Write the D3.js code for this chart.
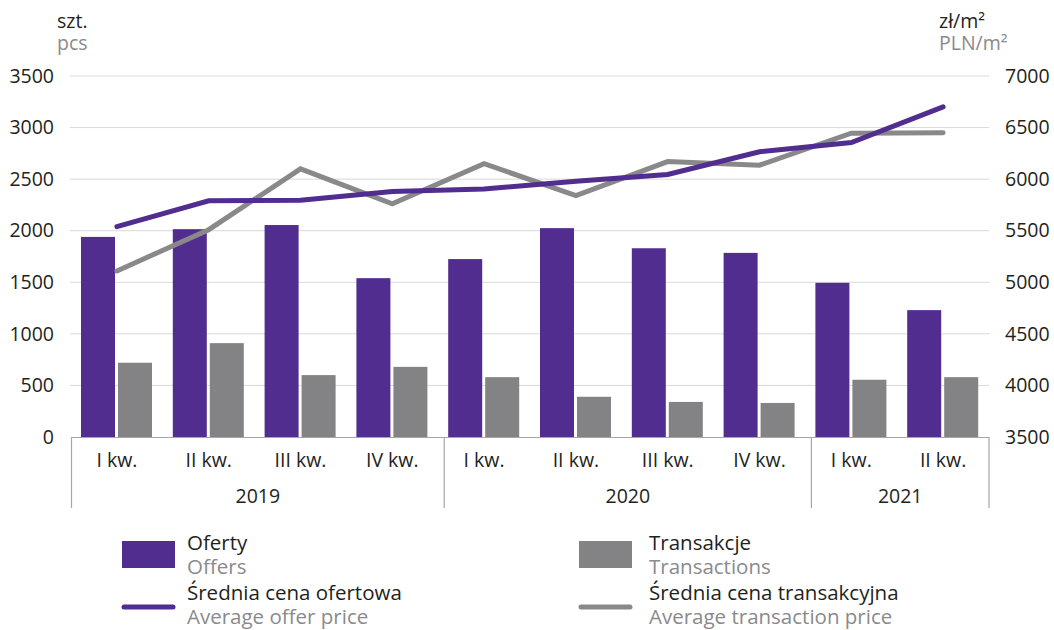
<!DOCTYPE html>
<html>
<head>
<meta charset="utf-8">
<script src="https://cdn.jsdelivr.net/npm/d3@7/dist/d3.min.js"></script>
<style>
  html, body { margin: 0; padding: 0; background: #fff; }
  svg text { font-family: "Open Sans", "Noto Sans", sans-serif; }
</style>
</head>
<body>
<svg id="chart" width="1054" height="630"></svg>
<script>
// Quarterly offers / transactions and average prices
const quarters = ["I kw.", "II kw.", "III kw.", "IV kw.", "I kw.", "II kw.", "III kw.", "IV kw.", "I kw.", "II kw."];
const quarterYears = ["2019", "2019", "2019", "2019", "2020", "2020", "2020", "2020", "2021", "2021"];
const years = ["2019", "2020", "2021"];

const offers = [1940, 2015, 2055, 1540, 1725, 2025, 1830, 1785, 1495, 1230];
const transactions = [720, 910, 600, 680, 580, 390, 340, 330, 555, 580];
const avgOfferPrice = [5540, 5790, 5795, 5880, 5905, 5980, 6045, 6265, 6355, 6700];
const avgTransactionPrice = [5110, 5510, 6100, 5760, 6150, 5840, 6170, 6135, 6445, 6450];

const leftTicks = [0, 500, 1000, 1500, 2000, 2500, 3000, 3500];
const rightTicks = [3500, 4000, 4500, 5000, 5500, 6000, 6500, 7000];

const PURPLE = "#512d8f";
const GREY_BAR = "#838386";
const GREY_LINE = "#89898b";
const TEXT = "#231f20";
const TEXT2 = "#8a8a8c";
const FS = 19.5;
const FS_LEGEND = 20.5;

const svg = d3.select("#chart");
const plot = { left: 71, right: 989, top: 76, bottom: 437 };

const x = d3.scaleBand().domain(d3.range(quarters.length)).range([plot.left, plot.right]);
const yLeft = d3.scaleLinear().domain([0, 3500]).range([plot.bottom, plot.top]);
const yRight = d3.scaleLinear().domain([3500, 7000]).range([plot.bottom, plot.top]);

// gridlines
svg.append("g").selectAll("line").data(leftTicks.slice(1)).join("line")
  .attr("x1", plot.left - 1).attr("x2", plot.right)
  .attr("y1", d => yLeft(d)).attr("y2", d => yLeft(d))
  .attr("stroke", "#d9d9d9").attr("stroke-width", 1);

// left axis
const axL = svg.append("g").attr("transform", `translate(${plot.left - 15},0)`)
  .call(d3.axisLeft(yLeft).tickValues(leftTicks).tickFormat(d3.format("d")).tickSize(0).tickPadding(2));
axL.select(".domain").remove();
axL.selectAll("text").attr("font-size", FS).attr("fill", TEXT)
  .attr("font-family", "'Open Sans', sans-serif");

// right axis
const axR = svg.append("g").attr("transform", `translate(${plot.right + 14},0)`)
  .call(d3.axisRight(yRight).tickValues(rightTicks).tickFormat(d3.format("d")).tickSize(0).tickPadding(2));
axR.select(".domain").remove();
axR.selectAll("text").attr("font-size", FS).attr("fill", TEXT)
  .attr("font-family", "'Open Sans', sans-serif");

// unit titles
svg.append("text").attr("x", 57).attr("y", 28).attr("font-size", FS).attr("fill", TEXT).text("szt.");
svg.append("text").attr("x", 57).attr("y", 50).attr("font-size", FS).attr("fill", TEXT2).text("pcs");
svg.append("text").attr("x", 939).attr("y", 28).attr("font-size", FS).attr("fill", TEXT).text("zł/m²");
svg.append("text").attr("x", 939).attr("y", 50).attr("font-size", FS).attr("fill", TEXT2).text("PLN/m²");

// bars
const barW = 34;
svg.append("g").selectAll("rect").data(offers).join("rect")
  .attr("x", (d, i) => x(i) + 10).attr("width", barW)
  .attr("y", d => yLeft(d)).attr("height", d => yLeft(0) - yLeft(d))
  .attr("fill", PURPLE);
svg.append("g").selectAll("rect").data(transactions).join("rect")
  .attr("x", (d, i) => x(i) + 47).attr("width", barW)
  .attr("y", d => yLeft(d)).attr("height", d => yLeft(0) - yLeft(d))
  .attr("fill", GREY_BAR);

// price lines
const cx = i => x(i) + x.bandwidth() / 2;
const line = d3.line().x((d, i) => cx(i)).y(d => yRight(d));
svg.append("path").datum(avgTransactionPrice).attr("d", line)
  .attr("fill", "none").attr("stroke", GREY_LINE).attr("stroke-width", 5)
  .attr("stroke-linecap", "round").attr("stroke-linejoin", "miter");
svg.append("path").datum(avgOfferPrice).attr("d", line)
  .attr("fill", "none").attr("stroke", PURPLE).attr("stroke-width", 5)
  .attr("stroke-linecap", "round").attr("stroke-linejoin", "miter");

// category axis
const axisG = svg.append("g");
axisG.append("line").attr("x1", plot.left).attr("x2", plot.right)
  .attr("y1", plot.bottom + 0.5).attr("y2", plot.bottom + 0.5)
  .attr("stroke", "#a6a6a6").attr("stroke-width", 1.2);

axisG.selectAll("text.q").data(quarters).join("text").attr("class", "q")
  .attr("x", (d, i) => cx(i)).attr("y", 467).attr("text-anchor", "middle")
  .attr("font-size", FS).attr("fill", TEXT).text(d => d);

// year groups
const groups = years.map(yr => {
  const idx = quarterYears.map((q, i) => q === yr ? i : -1).filter(i => i >= 0);
  return { year: yr, first: idx[0], last: idx[idx.length - 1] };
});
const boundary = (i) => i === 0 ? plot.left + 0.5 : x(i) + 6;
const bounds = groups.map(g => boundary(g.first)).concat([plot.right]);
axisG.selectAll("line.sep").data(bounds).join("line").attr("class", "sep")
  .attr("x1", d => d).attr("x2", d => d)
  .attr("y1", plot.bottom).attr("y2", 508)
  .attr("stroke", "#a6a6a6").attr("stroke-width", 1.2);
axisG.selectAll("text.yr").data(groups).join("text").attr("class", "yr")
  .attr("x", (g, i) => (bounds[i] + bounds[i + 1]) / 2).attr("y", 503)
  .attr("text-anchor", "middle").attr("font-size", FS).attr("fill", TEXT)
  .text(g => g.year);

// legend
const legend = [
  { x: 122, type: "rect", color: PURPLE, pl: "Oferty", en: "Offers", row: 0 },
  { x: 579, type: "rect", color: GREY_BAR, pl: "Transakcje", en: "Transactions", row: 0 },
  { x: 122, type: "line", color: PURPLE, pl: "Średnia cena ofertowa", en: "Average offer price", row: 1 },
  { x: 579, type: "line", color: GREY_LINE, pl: "Średnia cena transakcyjna", en: "Average transaction price", row: 1 }
];
const lg = svg.append("g").selectAll("g").data(legend).join("g")
  .attr("transform", d => `translate(${d.x},${d.row * 50})`);
lg.filter(d => d.type === "rect").append("rect")
  .attr("x", 0).attr("y", 541).attr("width", 53).attr("height", 27)
  .attr("fill", d => d.color);
lg.filter(d => d.type === "line").append("line")
  .attr("x1", 2).attr("x2", 51).attr("y1", 557).attr("y2", 557)
  .attr("stroke", d => d.color).attr("stroke-width", 5).attr("stroke-linecap", "round");
lg.append("text").attr("x", d => d.x === 122 ? 65 : 70).attr("y", 550)
  .attr("font-size", FS_LEGEND).attr("fill", TEXT).text(d => d.pl);
lg.append("text").attr("x", d => d.x === 122 ? 65 : 70).attr("y", 574)
  .attr("font-size", FS_LEGEND).attr("fill", TEXT2).text(d => d.en);
</script>
</body>
</html>
